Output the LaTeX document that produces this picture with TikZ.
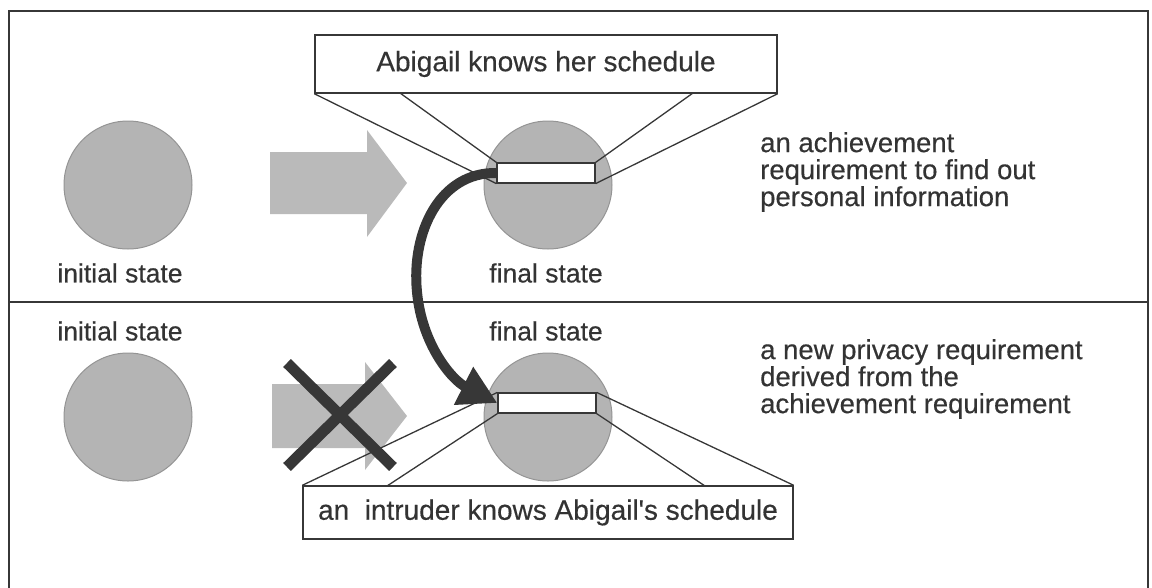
\documentclass[tikz,border=0pt]{standalone}
\usepackage{fontspec}
\setmainfont{Liberation Sans}
\newfontfamily\scanfont{Liberation Sans}[FakeBold=0.4]
\usepackage{tikz}
\usetikzlibrary{arrows.meta}

\definecolor{dotgray}{RGB}{180,180,180}
\definecolor{inkgray}{RGB}{55,55,55}

\begin{document}
\begin{tikzpicture}[x=1pt,y=-1pt,
    state/.style={circle,fill=dotgray,draw=black!42,line width=1pt,minimum size=128pt,inner sep=0pt},
    clip/.style={rectangle,fill=white,draw=inkgray,line width=1.2pt,minimum width=98pt,minimum height=20pt,inner sep=0pt},
    callout/.style={rectangle,fill=white,draw=inkgray,line width=1.4pt,inner sep=0pt,font=\scanfont\fontsize{28}{30}\selectfont,text=black!80},
    label/.style={inner sep=0pt,font=\scanfont\fontsize{26.5}{30}\selectfont,text=black!80},
    note/.style={inner sep=0pt,align=left,anchor=west,font=\scanfont\fontsize{27.5}{27}\selectfont,text=black!80},
    blockarr/.style={fill=dotgray!92},
    leader/.style={draw=inkgray,line width=1.3pt},
  ]
  \useasboundingbox (0,0) rectangle (1152,587);

  % 枠と仕切り
  \draw[inkgray,line width=2pt] (9,590) -- (9,11) -- (1148,11) -- (1148,590);
  \draw[inkgray,line width=2.6pt] (9,302) -- (1148,302);

  % 状態
  \node[state] (ini1) at (128,185) {};
  \node[state] (fin1) at (548,185) {};
  \node[state] (ini2) at (128,417) {};
  \node[state] (fin2) at (548,417) {};

  \node[label] (iname1) at (120,273) {initial state};
  \node[label] (fname1) at (546,273) {final state};
  \node[label] (iname2) at (120,331) {initial state};
  \node[label] (fname2) at (546,331) {final state};

  % 遷移の矢印
  \fill[blockarr] (270,152) -- (367,152) -- (367,130) -- (407,183)
    -- (367,237) -- (367,214) -- (270,214) -- cycle;
  \fill[blockarr] (272,384) -- (365,384) -- (365,362) -- (407,416)
    -- (365,470) -- (365,448) -- (272,448) -- cycle;

  % ×印
  \draw[inkgray,line width=11pt] (287,363) -- (393,467);
  \draw[inkgray,line width=11pt] (393,363) -- (287,467);

  % 吹き出し
  \node[clip] (upclip) at (546,173) {};
  \node[clip] (loclip) at (547,403) {};
  \node[callout,minimum width=462pt,minimum height=58pt] (upbox) at (546,64) {Abigail knows her schedule};
  \node[callout,minimum width=490pt,minimum height=53pt] (lobox) at (548,512.5) {an\ \ intruder knows Abigail's schedule};

  \coordinate (upa) at (400,93);
  \coordinate (upb) at (693,93);
  \coordinate (loa) at (387,486);
  \coordinate (lob) at (705,486);
  \draw[leader] (upbox.south west) -- (upclip.south west);
  \draw[leader] (upa) -- (upclip.north west);
  \draw[leader] (upb) -- (upclip.north east);
  \draw[leader] (upbox.south east) -- (upclip.south east);
  \draw[leader] (lobox.north west) -- (loclip.north west);
  \draw[leader] (loa) -- (loclip.south west);
  \draw[leader] (loclip.north east) -- (lobox.north east);
  \draw[leader] (loclip.south east) -- (lob);

  % 導出の矢印
  \draw[inkgray,line width=10pt,-{Triangle[length=38pt,width=40pt]}]
    (upclip.west) .. controls (440,172) and (411,232) .. (417,292)
    .. controls (422,345) and (452,380) .. (loclip.west);

  % 説明
  \node[note] (upnote) at (760,172) {an achievement\\requirement to find out\\personal information};
  \node[note] (lonote) at (760,379) {a new privacy requirement\\derived from the\\achievement requirement};
\end{tikzpicture}
\end{document}
